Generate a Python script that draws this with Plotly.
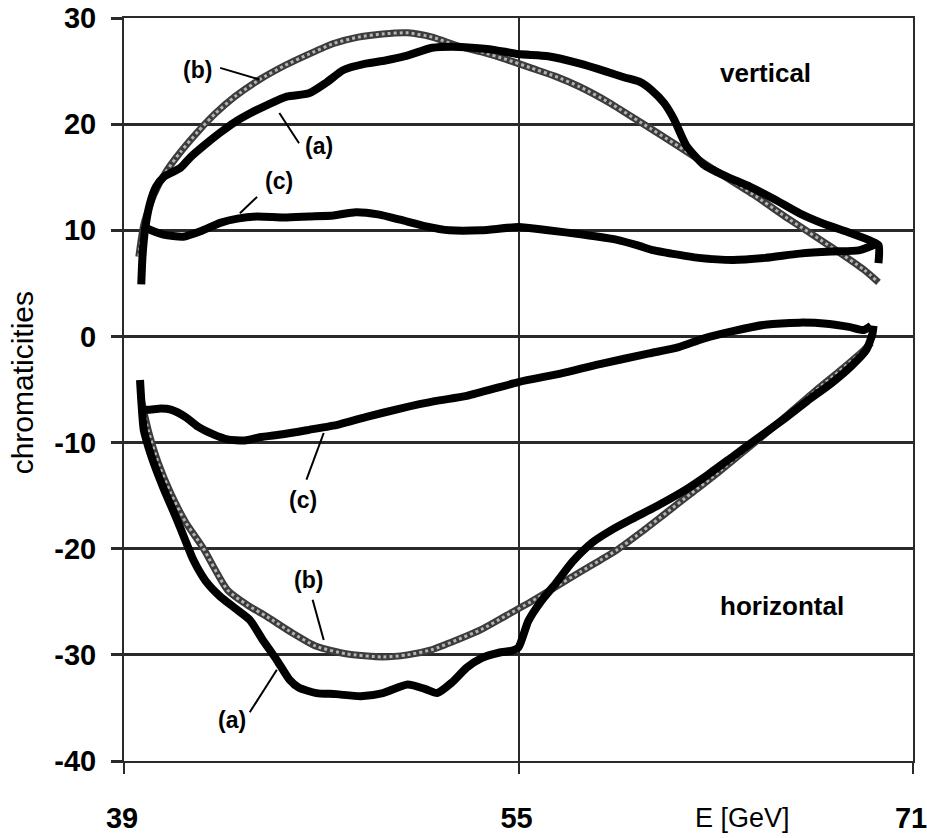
import plotly.graph_objects as go

# Chromaticity curves versus beam energy (E in GeV)
# vertical plane
v_a_x = [39.7, 39.75, 39.85, 40.05, 40.3, 40.6, 40.9, 41.3, 41.7, 42.3, 42.9, 43.5, 44.1, 44.8,
         45.6, 46.5, 47.2, 47.9, 48.8, 49.6, 50.4, 51.5, 52.3, 53.1, 54.0, 55.0, 56.2, 57.5,
         58.5, 59.3, 59.9, 60.4, 60.9, 61.3, 61.8, 62.5, 63.4, 64.4, 65.4, 66.4, 67.4, 68.4,
         69.2, 69.6, 69.6]
v_a_y = [4.9, 7.5, 10.0, 12.5, 14.1, 15.0, 15.4, 15.9, 16.9, 18.1, 19.2, 20.2, 21.0, 21.8,
         22.6, 22.9, 23.9, 25.1, 25.7, 26.0, 26.4, 27.2, 27.3, 27.2, 27.0, 26.6, 26.4, 25.7,
         25.0, 24.4, 24.0, 23.2, 22.0, 20.5, 18.0, 16.2, 15.1, 14.1, 12.9, 11.6, 10.6, 9.8,
         9.1, 8.6, 6.9]

v_b_x = [39.6, 39.8, 40.2, 40.7, 41.3, 42.0, 42.7, 43.5, 44.5, 45.5, 46.5, 47.5, 48.5, 49.5,
         50.5, 51.5, 52.5, 53.5, 54.5, 55.5, 56.5, 57.5, 58.7, 60.0, 61.5, 63.0, 64.5, 66.0,
         67.7, 69.0, 69.6]
v_b_y = [7.5, 10.5, 13.3, 15.5, 17.4, 19.3, 21.0, 22.6, 24.2, 25.5, 26.6, 27.6, 28.2, 28.5,
         28.6, 28.2, 27.4, 26.8, 26.1, 25.3, 24.5, 23.5, 22.0, 20.1, 17.9, 15.6, 13.4, 11.0,
         8.4, 6.3, 5.1]

v_c_x = [39.75, 40.1, 40.6, 41.4, 42.2, 42.9, 43.6, 44.4, 45.5, 46.5, 47.5, 48.4, 49.3, 50.2,
         51.2, 52.2, 53.5, 55.0, 56.2, 57.6, 59.0, 59.8, 60.5, 61.2, 62.3, 63.7, 65.0, 66.4,
         67.7, 68.8, 69.6]
v_c_y = [10.4, 10.0, 9.6, 9.4, 10.0, 10.7, 11.1, 11.3, 11.2, 11.3, 11.4, 11.7, 11.5, 11.0,
         10.4, 10.0, 10.0, 10.3, 10.0, 9.6, 9.1, 8.6, 8.1, 7.8, 7.4, 7.2, 7.4, 7.8,
         8.0, 8.1, 8.8]

# horizontal plane
h_a_x = [39.65, 39.7, 39.8, 40.0, 40.2, 40.6, 41.1, 41.5, 41.8, 42.3, 42.9, 43.5, 44.1, 44.6,
         45.2, 45.7, 46.1, 46.8, 47.6, 48.6, 49.5, 50.5, 51.2, 51.7, 52.3, 52.9, 53.5, 54.2,
         54.75, 55.0, 55.4, 55.9, 56.5, 57.2, 58.0, 58.8, 59.6, 60.6, 61.6, 62.7, 63.7, 64.7,
         65.7, 66.7, 67.7, 68.5, 69.1, 69.35, 69.4]
h_a_y = [-4.1, -6.0, -8.8, -10.5, -11.9, -14.3, -17.0, -19.3, -21.0, -23.0, -24.5, -25.6, -26.7, -28.5,
         -30.5, -32.3, -33.1, -33.6, -33.7, -33.9, -33.6, -32.8, -33.2, -33.6, -32.6, -31.2, -30.3, -29.8,
         -29.6, -29.3, -26.8, -25.0, -23.3, -21.2, -19.4, -18.2, -17.2, -16.0, -14.7, -13.0, -11.3, -9.6,
         -7.9, -6.1, -4.4, -2.8, -1.3, 0.2, 1.0]

h_b_x = [39.7, 40.0, 40.4, 40.9, 41.5, 42.2, 43.2, 44.0, 44.8, 45.8, 46.8, 48.0, 49.5, 50.5,
         51.5, 52.5, 53.5, 54.5, 55.5, 56.5, 57.5, 58.3, 59.0, 60.0, 61.0, 62.0, 63.0, 64.0,
         65.0, 66.0, 67.0, 68.0, 69.0, 69.3]
h_b_y = [-6.0, -9.0, -12.0, -14.8, -17.5, -19.9, -23.9, -25.3, -26.4, -27.9, -29.2, -29.9, -30.2, -30.0,
         -29.5, -28.6, -27.6, -26.3, -25.0, -23.6, -22.2, -21.1, -20.1, -18.4, -16.6, -14.8, -13.0, -11.1,
         -9.2, -7.2, -5.2, -3.3, -1.3, -0.6]

h_c_x = [39.75, 40.05, 40.5, 40.9, 41.5, 42.0, 42.6, 43.2, 43.9, 44.5, 45.5, 46.5, 47.7, 48.8,
         50.2, 51.6, 52.9, 55.0, 56.7, 58.3, 60.3, 61.5, 62.5, 63.7, 65.0, 66.4, 67.5, 68.4,
         69.0, 69.3]
h_c_y = [-6.9, -6.9, -6.8, -6.9, -7.6, -8.5, -9.2, -9.7, -9.8, -9.5, -9.2, -8.8, -8.3, -7.6,
         -6.8, -6.1, -5.6, -4.3, -3.5, -2.6, -1.6, -1.0, -0.2, 0.5, 1.1, 1.3, 1.2, 0.9,
         0.6, 1.0]

# curve labels: (text, label x, label y, leader start x, y, leader end x, y)
labels = [
    ("(b)", 42.0, 25.1, 42.9, 25.3, 44.5, 24.2),
    ("(a)", 46.9, 17.9, 46.1, 18.2, 45.3, 21.05),
    ("(c)", 45.3, 14.6, 44.4, 13.15, 43.7, 11.6),
    ("(c)", 46.25, -15.4, 46.4, -13.5, 47.1, -9.1),
    ("(b)", 46.5, -22.9, 46.65, -24.8, 47.1, -28.6),
    ("(a)", 43.4, -36.1, 44.1, -35.4, 45.2, -31.4),
]
plane_labels = [("vertical", 65.0, 24.8), ("horizontal", 65.7, -25.4)]

x_ticks = [39, 55, 71]
y_ticks = [-40, -30, -20, -10, 0, 10, 20, 30]

FONT = "Liberation Sans, Arial, sans-serif"
BLACK = "#000000"
GRID = "#2a2a2a"

fig = go.Figure()

def gray_curve(xs, ys):
    fig.add_trace(go.Scatter(x=xs, y=ys, mode="lines", line=dict(color="#3c3c3c", width=7, shape="spline", smoothing=0.6),
                             hoverinfo="skip", showlegend=False))
    fig.add_trace(go.Scatter(x=xs, y=ys, mode="lines", line=dict(color="#b4b4b4", width=3, shape="spline", smoothing=0.6, dash="dot"),
                             hoverinfo="skip", showlegend=False))

def black_curve(xs, ys):
    fig.add_trace(go.Scatter(x=xs, y=ys, mode="lines", line=dict(color=BLACK, width=8, shape="spline", smoothing=0.6),
                             hoverinfo="skip", showlegend=False))

gray_curve(v_b_x, v_b_y)
gray_curve(h_b_x, h_b_y)
black_curve(v_a_x, v_a_y)
black_curve(v_c_x, v_c_y)
black_curve(h_a_x, h_a_y)
black_curve(h_c_x, h_c_y)

for text, tx, ty, x0, y0, x1, y1 in labels:
    fig.add_shape(type="line", x0=x0, y0=y0, x1=x1, y1=y1, xref="x", yref="y",
                  line=dict(color=BLACK, width=2))
    fig.add_annotation(x=tx, y=ty, text=text, showarrow=False, xref="x", yref="y",
                       xanchor="center", yanchor="middle",
                       font=dict(family=FONT, size=23, color=BLACK, weight="bold"))

for text, tx, ty in plane_labels:
    fig.add_annotation(x=tx, y=ty, text=text, showarrow=False, xref="x", yref="y",
                       xanchor="center", yanchor="middle",
                       font=dict(family=FONT, size=26, color=BLACK, weight="bold"))

fig.add_annotation(x=64.1, y=-0.077, xref="x", yref="paper", text="E [GeV]", showarrow=False,
                   xanchor="center", yanchor="middle",
                   font=dict(family=FONT, size=27, color=BLACK))
fig.add_annotation(x=-0.129, y=-4.4, xref="paper", yref="y", text="chromaticities", showarrow=False,
                   xanchor="center", yanchor="middle", textangle=-90,
                   font=dict(family=FONT, size=30, color=BLACK))

fig.update_layout(
    width=927, height=838,
    margin=dict(l=124, r=14, t=18, b=77),
    paper_bgcolor="white", plot_bgcolor="white",
    showlegend=False,
    font=dict(family=FONT, color=BLACK),
)
fig.update_xaxes(range=[39, 71], tickvals=x_ticks, ticktext=[str(v) for v in x_ticks],
                 showgrid=True, gridcolor=GRID, gridwidth=2, zeroline=False,
                 showline=True, linecolor=GRID, linewidth=2, mirror=True,
                 ticks="outside", ticklen=11, tickwidth=2, tickcolor=GRID,
                 ticklabeloverflow="allow", automargin=False, ticklabelshift=-2,
                 tickfont=dict(family=FONT, size=29, color=BLACK, weight="bold"), ticklabelstandoff=19)
fig.update_yaxes(range=[-40, 30], tickvals=y_ticks, ticktext=[str(v) for v in y_ticks],
                 showgrid=True, gridcolor=GRID, gridwidth=3, zeroline=False,
                 showline=True, linecolor=GRID, linewidth=2, mirror=True,
                 ticks="outside", ticklen=11, tickwidth=3, tickcolor=GRID,
                 automargin=False,
                 tickfont=dict(family=FONT, size=29, color=BLACK, weight="bold"), ticklabelstandoff=9)

fig.write_html("out.html")
